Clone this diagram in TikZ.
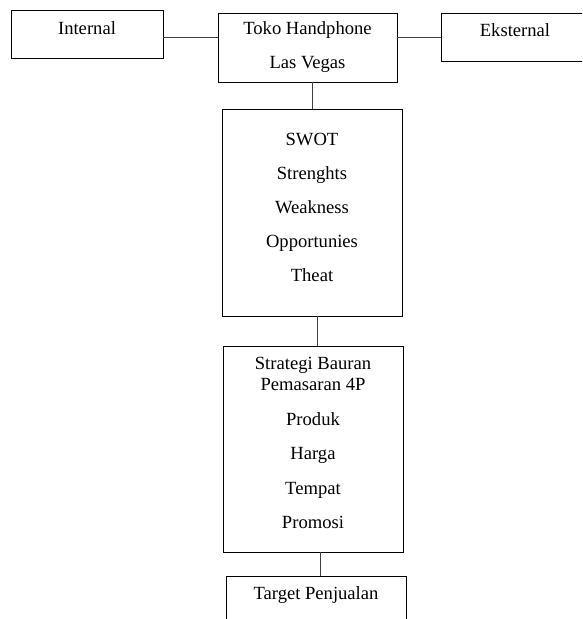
\documentclass[tikz,border=0pt]{standalone}
\usepackage{fontspec}
\setmainfont{Liberation Serif}
\begin{document}
\begin{tikzpicture}[x=1pt, y=-1pt,
  box/.style={draw, line width=0.9pt, inner sep=0pt, align=center,
    font=\fontsize{18.6}{21.5}\selectfont},
  link/.style={draw=black!75, line width=0.9pt}]
  \useasboundingbox (0,0) rectangle (582,619);
  \clip (0,0) rectangle (582,619);
  % top row
  \node[box, minimum width=152pt, minimum height=48pt] (int) at (87,34)
    {Internal\rule[-12pt]{0pt}{0pt}};
  \node[box, minimum width=179pt, minimum height=69pt] (toko) at (307.5,47.5)
    {Toko Handphone\\[12.5pt]Las Vegas};
  \node[box, minimum width=148pt, minimum height=48pt] (eks) at (515,37)
    {Eksternal\rule[-14pt]{0pt}{0pt}};
  % middle column
  \node[box, minimum width=180pt, minimum height=207pt] (swot) at (312,212.5)
    {SWOT\\[12.5pt]Strenghts\\[12.5pt]Weakness\\[12.5pt]Opportunies\\[12.5pt]Theat\rule[-10pt]{0pt}{0pt}};
  \node[box, minimum width=180pt, minimum height=206pt] (mix) at (313,449)
    {Strategi Bauran\\Pemasaran 4P\\[13pt]Produk\\[13pt]Harga\\[13pt]Tempat\\[13pt]Promosi\rule[-12pt]{0pt}{0pt}};
  \node[box, minimum width=180pt, minimum height=70pt] (target) at (316,611)
    {Target Penjualan\rule[-36pt]{0pt}{0pt}};
  \draw[link]
    (eks.west -| int.east) -- (eks.west -| toko.west)
    (eks.west -| toko.east) -- (eks.west)
    (swot.north) -- (swot.north |- toko.south)
    ([xshift=4pt]mix.north) -- ([xshift=4pt]mix.north |- swot.south)
    ([xshift=4pt]target.north) -- ([xshift=4pt]target.north |- mix.south);
\end{tikzpicture}
\end{document}
